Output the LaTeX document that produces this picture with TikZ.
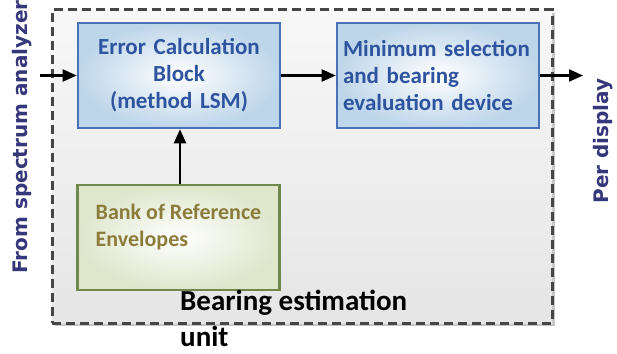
\documentclass[tikz,border=0pt]{standalone}
\usepackage{fontspec}
\setmainfont{Carlito}
\newfontfamily\sidefont{DejaVu Sans}
\usetikzlibrary{arrows.meta,shadows}
\definecolor{calcBorder}{RGB}{74,112,184}
\definecolor{calcFill}{RGB}{190,214,234}
\definecolor{calcText}{RGB}{46,84,160}
\definecolor{bankBorder}{RGB}{112,136,76}
\definecolor{bankFill}{RGB}{222,230,204}
\definecolor{bankText}{RGB}{140,124,60}
\definecolor{sideText}{RGB}{54,54,122}
\definecolor{unitDash}{RGB}{70,70,70}
\begin{document}
\begin{tikzpicture}
[x=1pt,y=1pt,
  arrowDecorate/.style={-{Triangle[length=14pt,width=12pt]},line width=2.2pt},%
  blockDecorate/.style={line width=2.6pt,shading=radial,inner color=white,
    minimum width=202pt,minimum height=105pt,font=\fontsize{23}{27}\selectfont\bfseries},%
  calcDecorate/.style={blockDecorate,draw=calcBorder,outer color=calcFill,text=calcText},%
  bankDecorate/.style={blockDecorate,draw=bankBorder,outer color=bankFill,text=bankText},%
  sideDecorate/.style={rotate=90,text=sideText,font=\sidefont\fontsize{20}{24}\selectfont\bfseries}]
\useasboundingbox (0,0) rectangle (617,353);
%% unit frame
\node (unitbox) at (302,186.5) [minimum width=500pt,minimum height=313pt,
  draw=unitDash,line width=3pt,dash pattern=on 9pt off 5pt,
  shading=axis,top color=white!97!black,bottom color=white!90!black,
  drop shadow={shadow xshift=3pt,shadow yshift=-3pt,fill=black!22,opacity=1}] {};
%% blocks
\node (calc) at (179,277.5) [calcDecorate,align=center,text width=194pt]
  {Error Calculation\\Block\\(method LSM)};
\node (minsel) at (438,277.5) [calcDecorate,align=left,text width=190pt]
  {Minimum selection\\and bearing\\evaluation device};
\node (bank) at (178.5,115.5) [bankDecorate,align=left,
  font=\fontsize{22}{27}\selectfont\bfseries,
  text depth=24pt] {Bank of Reference\\Envelopes};
%% texts
\node (fromtext) at (22,216) [sideDecorate] {From spectrum analyzer};
\node (pertext) at (603,212) [sideDecorate] {Per display};
\node (unittext) at (180,7) [anchor=base west,align=left,inner sep=0pt,
  font=\fontsize{29}{36}\selectfont\bfseries] {Bearing estimation\\unit};
%% edges
\coordinate (inlet) at (40,277.5);
\coordinate (outlet) at (583,277.5);
\path
\foreach \startnode/\endnode in {inlet/calc.west, calc/minsel, minsel.east/outlet}
{
  (\startnode) edge[arrowDecorate] (\endnode)
};
\draw[arrowDecorate] (bank.north -| 180,0) -- (calc.south -| 180,0);
\end{tikzpicture}
\end{document}
